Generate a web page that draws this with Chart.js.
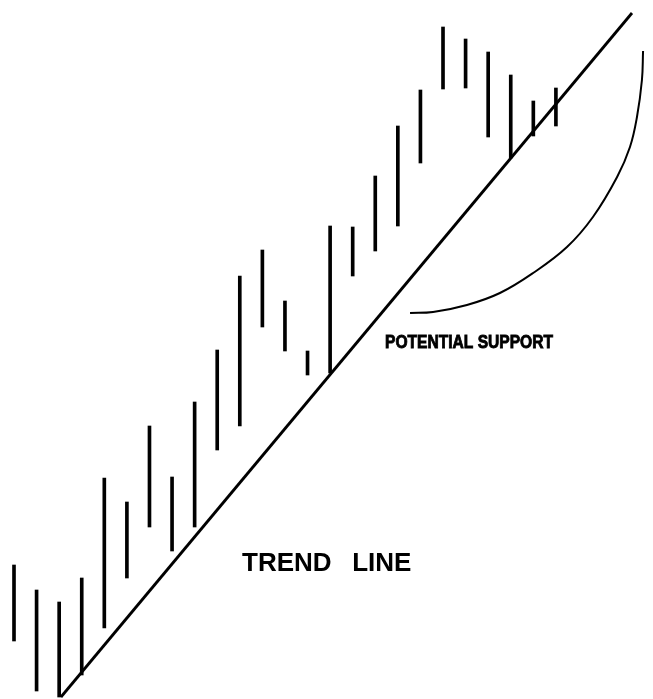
<!DOCTYPE html>
<html>
<head>
<meta charset="utf-8">
<script src="https://cdn.jsdelivr.net/npm/chart.js@4.4.1/dist/chart.umd.min.js"></script>
<style>
  html, body { margin: 0; padding: 0; background: #fff; }
  canvas { display: block; }
</style>
</head>
<body>
<canvas id="trendChart" width="653" height="699"></canvas>
<script>
// bar index (session) and price range of each session
const sessions = [1, 2, 3, 4, 5, 6, 7, 8, 9, 10, 11, 12, 13, 14, 15, 16, 17, 18, 19, 20, 21, 22, 23, 24, 25];
const highs = [13.4, 10.9, 9.7, 12.1, 22.1, 19.7, 27.3, 22.2, 29.7, 34.9, 42.3, 44.9, 39.8, 34.8, 47.3, 47.2, 52.3, 57.3, 60.9, 67.2, 66.0, 64.7, 62.4, 59.8, 61.1];
const lows = [5.8, 0.8, 0.2, 2.4, 7.1, 12.1, 17.2, 14.8, 17.2, 24.9, 27.3, 37.2, 34.8, 32.4, 32.6, 42.3, 44.8, 47.3, 53.6, 61.0, 61.1, 56.2, 54.1, 56.3, 57.3];

// trend line end points
const trendX = [3.08, 28.37];
const trendY = [0.2, 68.6];

// curved "potential support" arc
const arcX = [18.54, 19.56, 21.06, 22.52, 23.99, 25.49, 26.64, 27.71, 28.28, 28.59, 28.81, 28.86];
const arcY = [38.6, 38.7, 39.4, 40.6, 42.6, 45.2, 48.2, 52.2, 55.2, 58.2, 61.9, 64.8];

// labels, anchored in data units (left x, baseline y)
const labels = [
    { text: 'POTENTIAL SUPPORT', x: 17.43, y: 35.1, size: 19, width: 168, heavy: true },
    { text: 'TREND', x: 11.1, y: 12.8, size: 26 },
    { text: 'LINE', x: 15.98, y: 12.8, size: 26 }
];

const textPlugin = {
    id: 'textLabels',
    afterDatasetsDraw(chart) {
        const ctx = chart.ctx;
        const xs = chart.scales.x;
        const ys = chart.scales.y;
        ctx.save();
        ctx.fillStyle = '#000';
        ctx.strokeStyle = '#000';
        ctx.textBaseline = 'alphabetic';
        ctx.textAlign = 'left';
        labels.forEach(l => {
            ctx.font = 'bold ' + l.size + 'px "Liberation Sans", Arial, sans-serif';
            const px = xs.getPixelForValue(l.x);
            const py = ys.getPixelForValue(l.y);
            if (l.width) {
                const w = ctx.measureText(l.text).width;
                ctx.save();
                ctx.translate(px, py);
                ctx.scale(l.width / w, 1);
                ctx.fillText(l.text, 0, 0);
                if (l.heavy) {
                    ctx.lineWidth = 0.9;
                    ctx.strokeText(l.text, 0, 0);
                }
                ctx.restore();
            } else {
                ctx.fillText(l.text, px, py);
            }
        });
        ctx.restore();
    }
};

const chart = new Chart(document.getElementById('trendChart').getContext('2d'), {
    type: 'bar',
    data: {
        datasets: [
            {
                type: 'bar',
                label: 'Range',
                data: sessions.map((s, i) => ({ x: s, y: [lows[i], highs[i]] })),
                backgroundColor: '#000',
                borderWidth: 0,
                barThickness: 3
            },
            {
                type: 'line',
                label: 'Trend line',
                data: trendX.map((x, i) => ({ x: x, y: trendY[i] })),
                borderColor: '#000',
                borderWidth: 2.8,
                pointRadius: 0,
                fill: false
            },
            {
                type: 'line',
                label: 'Potential support',
                data: arcX.map((x, i) => ({ x: x, y: arcY[i] })),
                borderColor: '#000',
                borderWidth: 2,
                pointRadius: 0,
                tension: 0.4,
                fill: false
            }
        ]
    },
    options: {
        responsive: false,
        animation: false,
        layout: { padding: 0 },
        plugins: {
            legend: { display: false },
            tooltip: { enabled: false },
            title: { display: false }
        },
        scales: {
            x: {
                type: 'linear',
                display: false,
                min: 0.38,
                max: 29.30,
                offset: false
            },
            y: {
                display: false,
                min: 0,
                max: 69.9
            }
        }
    },
    plugins: [textPlugin]
});
</script>
</body>
</html>
